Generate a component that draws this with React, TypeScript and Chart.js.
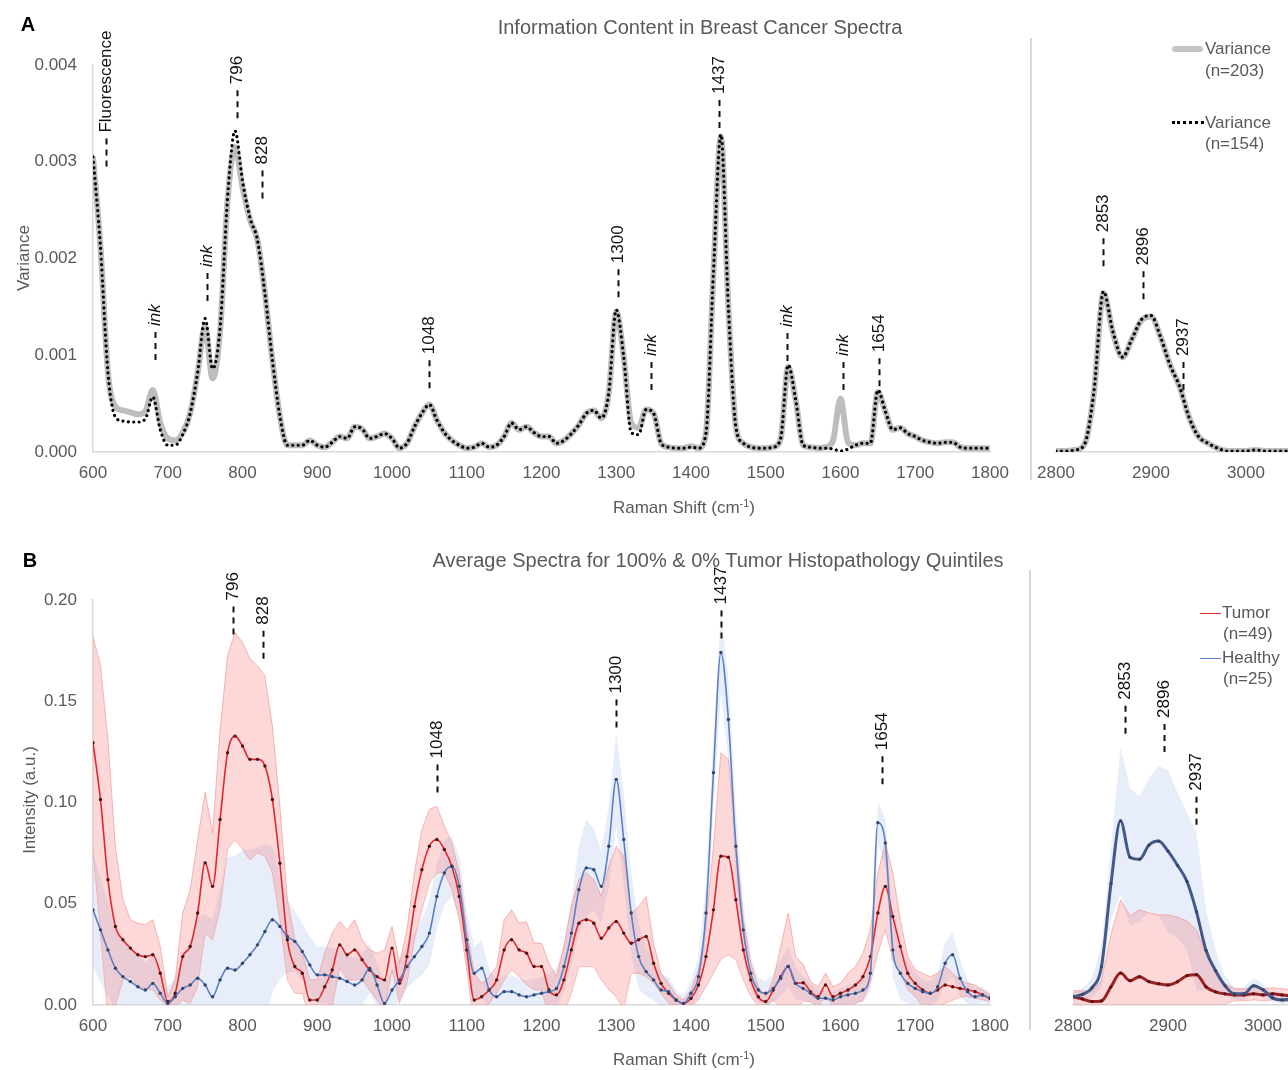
import React, { useEffect, useRef } from "react";
import { Chart, registerables } from "chart.js";

Chart.register(...registerables);

const FONT = "'Liberation Sans', Arial, Helvetica, sans-serif";
const TEXT_GRAY = "#595959";
const AXIS_GRAY = "#d9d9d9";

// ---------- x grids (Raman shift, cm-1) ----------
const FP_SHIFT = [
  600, 610, 620, 630, 640, 650, 660, 670, 680, 690,
  700, 710, 720, 730, 740, 750, 760, 770, 780, 790,
  800, 810, 820, 830, 840, 850, 860, 870, 880, 890,
  900, 910, 920, 930, 940, 950, 960, 970, 980, 990,
  1000, 1010, 1020, 1030, 1040, 1050, 1060, 1070, 1080, 1090,
  1100, 1110, 1120, 1130, 1140, 1150, 1160, 1170, 1180, 1190,
  1200, 1210, 1220, 1230, 1240, 1250, 1260, 1270, 1280, 1290,
  1300, 1310, 1320, 1330, 1340, 1350, 1360, 1370, 1380, 1390,
  1400, 1410, 1420, 1430, 1440, 1450, 1460, 1470, 1480, 1490,
  1500, 1510, 1520, 1530, 1540, 1550, 1560, 1570, 1580, 1590,
  1600, 1610, 1620, 1630, 1640, 1650, 1660, 1670, 1680, 1690,
  1700, 1710, 1720, 1730, 1740, 1750, 1760, 1770, 1780, 1790,
  1800,
];
const HW_SHIFT = [
  2800, 2810, 2820, 2830, 2840, 2850, 2860, 2870, 2880, 2890,
  2900, 2910, 2920, 2930, 2940, 2950, 2960, 2970, 2980, 2990,
  3000, 3010, 3020, 3030, 3040, 3050,
];

// ---------- tick labels ----------
const FP_TICKS = [600, 700, 800, 900, 1000, 1100, 1200, 1300, 1400, 1500, 1600, 1700, 1800];
const HW_TICKS = [2800, 2900, 3000];
const VAR_TICKS = [0, 0.001, 0.002, 0.003, 0.004];
const INT_TICKS = [0, 0.05, 0.1, 0.15, 0.2];

// ---------- Panel A: variance (values in units of 0.001) ----------
const VAR203_FP = [
  3.05, 2.12, 0.82, 0.47, 0.43, 0.41, 0.39, 0.42, 0.64, 0.30,
  0.14, 0.12, 0.20, 0.40, 0.82, 1.30, 0.76, 1.25, 2.60, 3.15,
  2.74, 2.40, 2.19, 1.64, 0.95, 0.37, 0.07, 0.07, 0.07, 0.12,
  0.07, 0.05, 0.10, 0.16, 0.14, 0.26, 0.24, 0.14, 0.16, 0.19,
  0.14, 0.04, 0.09, 0.26, 0.40, 0.49, 0.33, 0.20, 0.12, 0.07,
  0.04, 0.05, 0.09, 0.05, 0.07, 0.16, 0.30, 0.23, 0.26, 0.20,
  0.16, 0.16, 0.09, 0.12, 0.19, 0.28, 0.40, 0.43, 0.35, 0.61,
  1.45, 0.98, 0.30, 0.25, 0.44, 0.40, 0.09, 0.05, 0.04, 0.04,
  0.06, 0.04, 0.19, 1.85, 3.26, 1.50, 0.26, 0.09, 0.05, 0.04,
  0.04, 0.05, 0.14, 0.88, 0.54, 0.07, 0.05, 0.04, 0.05, 0.12,
  0.55, 0.10, 0.07, 0.09, 0.09, 0.62, 0.42, 0.23, 0.25, 0.19,
  0.16, 0.12, 0.10, 0.09, 0.10, 0.10, 0.05, 0.04, 0.04, 0.04,
  0.04,
];
const VAR154_FP = [
  3.05, 2.12, 0.82, 0.36, 0.32, 0.31, 0.31, 0.34, 0.57, 0.23,
  0.07, 0.07, 0.18, 0.40, 0.82, 1.38, 0.86, 1.28, 2.62, 3.32,
  2.80, 2.42, 2.19, 1.64, 0.95, 0.37, 0.07, 0.07, 0.07, 0.12,
  0.07, 0.05, 0.10, 0.16, 0.14, 0.26, 0.24, 0.14, 0.16, 0.19,
  0.14, 0.04, 0.09, 0.26, 0.40, 0.49, 0.33, 0.20, 0.12, 0.07,
  0.04, 0.05, 0.09, 0.05, 0.07, 0.16, 0.30, 0.23, 0.26, 0.20,
  0.16, 0.16, 0.09, 0.12, 0.19, 0.28, 0.40, 0.43, 0.35, 0.61,
  1.47, 0.98, 0.20, 0.18, 0.44, 0.40, 0.09, 0.05, 0.04, 0.04,
  0.05, 0.04, 0.19, 1.85, 3.28, 1.50, 0.26, 0.09, 0.05, 0.04,
  0.04, 0.05, 0.14, 0.90, 0.54, 0.07, 0.05, 0.04, 0.04, 0.03,
  0.01, 0.03, 0.07, 0.09, 0.09, 0.64, 0.42, 0.23, 0.25, 0.19,
  0.16, 0.12, 0.10, 0.09, 0.10, 0.10, 0.05, 0.04, 0.04, 0.04,
  0.04,
];
const VAR203_HW = [
  0.01, 0.01, 0.02, 0.08, 0.62, 1.64, 1.23, 0.98, 1.17, 1.36,
  1.40, 1.19, 0.90, 0.68, 0.36, 0.16, 0.09, 0.04, 0.01, 0.01,
  0.01, 0.02, 0.01, 0.01, 0.01, 0.01,
];
const VAR154_HW = [
  0.01, 0.01, 0.02, 0.08, 0.63, 1.66, 1.24, 0.98, 1.17, 1.37,
  1.41, 1.19, 0.90, 0.68, 0.36, 0.16, 0.09, 0.04, 0.01, 0.01,
  0.01, 0.02, 0.01, 0.01, 0.01, 0.01,
];

// ---------- Panel B: mean intensity and SD (values in units of 0.01) ----------
const TUMOR_FP = [
  12.95, 10.15, 6.19, 3.88, 3.22, 2.81, 2.48, 2.39, 2.48, 1.57,
  0.17, 0.58, 2.39, 2.89, 4.54, 7.02, 5.86, 9.16, 12.46, 13.28,
  12.79, 12.13, 12.13, 11.80, 10.15, 7.00, 3.22, 1.90, 1.57, 0.25,
  0.25, 0.90, 1.73, 2.97, 2.48, 2.72, 2.24, 1.73, 1.40, 1.24,
  2.81, 1.07, 2.39, 4.87, 6.68, 7.84, 8.17, 7.68, 6.85, 5.36,
  2.72, 0.25, 0.41, 0.74, 1.24, 2.72, 3.22, 2.72, 2.56, 1.90,
  1.90, 0.74, 0.50, 1.24, 2.72, 4.04, 4.21, 4.04, 3.30, 3.80,
  4.12, 3.55, 3.05, 3.22, 3.38, 2.06, 1.07, 0.58, 0.25, 0.08,
  0.33, 0.99, 2.39, 4.70, 7.35, 7.30, 5.20, 2.72, 1.24, 0.41,
  0.17, 0.74, 1.40, 1.90, 1.07, 1.10, 0.65, 0.41, 0.99, 0.41,
  0.58, 0.74, 0.99, 1.40, 2.39, 4.54, 5.86, 4.37, 2.89, 1.57,
  1.07, 0.74, 0.58, 0.74, 0.99, 0.90, 0.82, 0.74, 0.66, 0.50,
  0.33,
];
const TUMOR_SD_FP = [
  5.25, 6.60, 6.90, 3.90, 2.00, 1.40, 1.56, 1.57, 1.73, 1.32,
  0.24, 0.66, 2.15, 2.80, 3.63, 3.48, 2.64, 4.44, 4.78, 5.12,
  5.11, 4.97, 4.62, 4.45, 3.63, 2.80, 2.00, 1.32, 1.00, 1.00,
  1.00, 1.66, 1.82, 1.15, 1.23, 1.49, 0.98, 1.00, 1.16, 1.48,
  1.07, 0.99, 1.32, 1.65, 1.98, 1.81, 1.65, 1.15, 1.15, 1.16,
  1.00, 1.32, 0.66, 0.66, 0.66, 1.49, 1.48, 1.32, 1.56, 1.15,
  1.15, 1.32, 0.90, 1.65, 2.15, 2.15, 2.31, 2.15, 2.06, 3.05,
  3.72, 3.80, 1.49, 1.65, 1.98, 0.99, 0.50, 0.49, 0.25, 0.17,
  0.41, 0.74, 1.49, 3.14, 5.10, 4.83, 2.97, 1.49, 0.82, 0.49,
  0.24, 0.50, 1.49, 2.64, 1.32, 0.91, 0.49, 0.49, 0.58, 0.49,
  0.49, 0.83, 0.91, 1.16, 1.32, 1.98, 2.14, 2.15, 1.32, 0.82,
  0.66, 0.83, 0.82, 0.83, 0.91, 0.67, 0.42, 0.33, 0.33, 0.24,
  0.17,
];
const HEALTHY_FP = [
  4.70, 3.71, 2.72, 1.82, 1.40, 1.16, 0.90, 0.74, 1.07, 0.58,
  0.08, 0.41, 0.82, 0.99, 1.32, 0.99, 0.41, 1.24, 1.82, 1.73,
  2.06, 2.48, 2.97, 3.63, 4.21, 3.88, 3.38, 3.14, 2.64, 1.98,
  1.49, 1.49, 1.40, 1.32, 1.16, 0.99, 1.24, 1.82, 0.99, 0.08,
  0.74, 1.24, 1.90, 2.39, 2.89, 3.55, 5.36, 6.52, 6.85, 5.86,
  3.22, 1.57, 1.82, 0.74, 0.41, 0.66, 0.66, 0.50, 0.41, 0.50,
  0.58, 0.66, 0.82, 1.90, 3.55, 5.69, 6.77, 6.68, 5.86, 7.84,
  11.14, 8.17, 4.54, 2.39, 1.65, 1.24, 0.74, 0.66, 0.25, 0.08,
  0.58, 1.40, 4.54, 11.47, 17.41, 14.10, 7.84, 3.71, 1.57, 0.74,
  0.58, 0.82, 1.32, 1.90, 1.07, 0.82, 0.58, 0.33, 0.33, 0.25,
  0.41, 0.50, 0.58, 0.74, 1.57, 9.00, 8.00, 2.72, 1.57, 1.07,
  0.82, 0.66, 0.58, 0.90, 2.06, 2.48, 1.32, 0.66, 0.41, 0.50,
  0.33,
];
const HEALTHY_SD_FP = [
  2.8, 2.6, 2.3, 2.0, 1.8, 1.6, 1.5, 1.4, 1.4, 1.2,
  0.8, 1.0, 1.6, 2.2, 3.0, 3.5, 3.8, 4.5, 5.5, 5.6,
  5.6, 5.2, 4.8, 4.3, 3.6, 2.6, 1.8, 1.5, 1.4, 1.4,
  1.4, 1.4, 1.4, 1.4, 1.3, 1.3, 1.3, 1.2, 1.1, 1.0,
  1.0, 1.0, 1.1, 1.2, 1.4, 1.6, 1.6, 1.6, 1.5, 1.5,
  1.4, 1.3, 1.4, 1.0, 0.8, 0.8, 0.8, 0.8, 0.8, 0.8,
  0.8, 0.9, 1.0, 1.2, 1.6, 2.2, 2.4, 2.0, 1.8, 2.0,
  2.3, 2.3, 2.0, 1.6, 1.2, 1.0, 0.8, 0.7, 0.5, 0.4,
  0.6, 1.0, 1.5, 1.8, 2.0, 2.0, 1.8, 1.2, 0.8, 0.6,
  0.6, 0.7, 0.9, 1.0, 0.8, 0.6, 0.5, 0.4, 0.4, 0.4,
  0.4, 0.5, 0.5, 0.6, 0.9, 1.0, 1.2, 1.4, 1.3, 1.0,
  0.8, 0.6, 0.6, 0.7, 1.0, 1.1, 0.9, 0.6, 0.4, 0.4,
  0.3,
];
const TUMOR_HW = [
  0.41, 0.30, 0.17, 0.20, 0.90, 1.58, 1.20, 1.40, 1.15, 1.05,
  0.99, 1.15, 1.45, 1.50, 0.90, 0.65, 0.55, 0.50, 0.50, 0.55,
  0.50, 0.55, 0.50, 0.45, 0.45, 0.45,
];
const TUMOR_SD_HW = [
  0.3, 0.4, 0.5, 1.0, 2.6, 3.6, 3.2, 3.3, 3.4, 3.4,
  3.46, 3.2, 2.7, 2.2, 1.6, 1.0, 0.5, 0.3, 0.3, 0.3,
  0.3, 0.3, 0.3, 0.3, 0.3, 0.3,
];
const HEALTHY_HW = [
  0.41, 0.52, 0.85, 1.90, 6.00, 9.10, 7.30, 7.20, 7.90, 8.10,
  7.60, 6.90, 6.10, 4.60, 2.70, 1.70, 0.95, 0.55, 0.55, 0.95,
  0.75, 0.35, 0.25, 0.30, 0.30, 0.30,
];
const HEALTHY_SD_HW = [
  0.2, 0.3, 0.5, 1.0, 1.8, 3.6, 3.4, 3.1, 3.3, 3.7,
  4.0, 3.6, 3.4, 3.9, 2.0, 1.0, 0.5, 0.3, 0.3, 0.4,
  0.3, 0.2, 0.2, 0.2, 0.2, 0.2,
];

// ---------- peak annotations (x = shift, y = where the dashed marker starts) ----------
const A_FP_PEAKS = [
  { x: 617, y: 0.00295, label: "Fluorescence" },
  { x: 683, y: 0.00095, label: "ink", italic: true },
  { x: 752, y: 0.00156, label: "ink", italic: true },
  { x: 793, y: 0.00345, label: "796" },
  { x: 826, y: 0.00262, label: "828" },
  { x: 1050, y: 0.00066, label: "1048" },
  { x: 1302, y: 0.0016, label: "1300" },
  { x: 1346, y: 0.00064, label: "ink", italic: true },
  { x: 1437, y: 0.00335, label: "1437" },
  { x: 1529, y: 0.00094, label: "ink", italic: true },
  { x: 1603, y: 0.00064, label: "ink", italic: true },
  { x: 1652, y: 0.00068, label: "1654" },
];
const A_HW_PEAKS = [
  { x: 2849, y: 0.00192, label: "2853" },
  { x: 2892, y: 0.00158, label: "2896" },
  { x: 2934, y: 0.00064, label: "2937" },
];
const B_FP_PEAKS = [
  { x: 787, y: 0.183, label: "796" },
  { x: 828, y: 0.171, label: "828" },
  { x: 1060, y: 0.105, label: "1048" },
  { x: 1300, y: 0.137, label: "1300" },
  { x: 1440, y: 0.181, label: "1437" },
  { x: 1655, y: 0.109, label: "1654" },
];
const B_HW_PEAKS = [
  { x: 2855, y: 0.134, label: "2853" },
  { x: 2896, y: 0.125, label: "2896" },
  { x: 2929, y: 0.089, label: "2937" },
];

// ---------- helpers ----------
type Pt = { x: number; y: number };
const pts = (xs: number[], ys: number[], k: number): Pt[] => xs.map((x, i) => ({ x, y: ys[i] * k }));
const band = (xs: number[], m: number[], sd: number[], sign: number, k: number): Pt[] =>
  xs.map((x, i) => ({ x, y: (m[i] + sign * sd[i]) * k }));

const CANVAS_W = 1320;
const CANVAS_H = 1070;

function peakPlugin(items: { x: number; y: number; label: string; italic?: boolean }[]) {
  return {
    id: "peakMarks",
    afterDatasetsDraw(chart: any) {
      const xs = chart.scales.x;
      const ys = chart.scales.y;
      const ctx = chart.ctx as CanvasRenderingContext2D;
      for (const it of items) {
        const px = Math.round(xs.getPixelForValue(it.x)) + 0.5;
        const py = ys.getPixelForValue(it.y);
        ctx.save();
        ctx.strokeStyle = "#111";
        ctx.lineWidth = 2;
        ctx.setLineDash([6, 5]);
        ctx.beginPath();
        ctx.moveTo(px, py);
        ctx.lineTo(px, py - 30);
        ctx.stroke();
        ctx.setLineDash([]);
        ctx.translate(px, py - 34);
        ctx.rotate(-Math.PI / 2);
        ctx.font = `${it.italic ? "italic " : ""}17px ${FONT}`;
        ctx.fillStyle = "#111";
        ctx.textAlign = "left";
        ctx.textBaseline = "middle";
        ctx.fillText(it.label, 0, 0);
        ctx.restore();
      }
    },
  };
}

function makeOptions(o: {
  padding: any;
  xMin: number;
  xMax: number;
  xTicks: number[];
  yMax: number;
  yTicks: number[];
  yShow: boolean;
  yDecimals: number;
}) {
  return {
    responsive: false,
    maintainAspectRatio: false,
    animation: false,
    devicePixelRatio: 1,
    events: [],
    layout: { padding: o.padding },
    plugins: { legend: { display: false }, tooltip: { enabled: false }, title: { display: false } },
    elements: { point: { radius: 0 } },
    scales: {
      x: {
        type: "linear",
        min: o.xMin,
        max: o.xMax,
        grid: { display: false, drawTicks: false },
        border: { display: true, color: AXIS_GRAY, width: 1.5 },
        ticks: {
          color: TEXT_GRAY,
          font: { size: 17, family: FONT },
          padding: 11,
          maxRotation: 0,
          autoSkip: false,
          callback: (v: any) => String(v),
        },
        afterBuildTicks: (s: any) => {
          s.ticks = o.xTicks.map((v) => ({ value: v }));
        },
        afterFit: (s: any) => {
          s.height = 40;
        },
      },
      y: {
        type: "linear",
        display: o.yShow,
        min: 0,
        max: o.yMax,
        grid: { display: false, drawTicks: false },
        border: { display: true, color: AXIS_GRAY, width: 1.5 },
        ticks: {
          color: TEXT_GRAY,
          font: { size: 17, family: FONT },
          padding: 16,
          callback: (v: any) => Number(v).toFixed(o.yDecimals),
        },
        afterBuildTicks: (s: any) => {
          s.ticks = o.yTicks.map((v) => ({ value: v }));
        },
        afterFit: (s: any) => {
          s.width = o.yShow ? 93 : 0;
        },
      },
    },
  };
}

function varianceConfig(xs: number[], v203: number[], v154: number[], peaks: any[], opts: any) {
  return {
    type: "line",
    data: {
      datasets: [
        {
          label: "Variance (n=154)",
          data: pts(xs, v154, 0.001),
          borderColor: "#000",
          borderWidth: 3.2,
          borderDash: [0.01, 5.4],
          borderCapStyle: "round",
          pointRadius: 0,
          fill: false,
          cubicInterpolationMode: "monotone",
          order: 0,
        },
        {
          label: "Variance (n=203)",
          data: pts(xs, v203, 0.001),
          borderColor: "rgba(178,178,178,0.85)",
          borderWidth: 6,
          pointRadius: 0,
          fill: false,
          cubicInterpolationMode: "monotone",
          order: 1,
        },
      ],
    },
    options: opts,
    plugins: [peakPlugin(peaks)],
  };
}

function intensityConfig(
  xs: number[],
  tumor: number[],
  tumorSd: number[],
  healthy: number[],
  healthySd: number[],
  peaks: any[],
  opts: any,
  thick: boolean
) {
  const k = 0.01;
  const none = "rgba(0,0,0,0)";
  return {
    type: "line",
    data: {
      datasets: [
        {
          label: "Healthy (n=25)",
          data: pts(xs, healthy, k),
          borderColor: thick ? "#44598a" : "#5b80c8",
          borderWidth: thick ? 3 : 1.6,
          pointRadius: thick ? 1.6 : 1.7,
          pointBackgroundColor: "#354565",
          pointBorderWidth: 0,
          fill: false,
          cubicInterpolationMode: "monotone",
          order: 0,
        },
        {
          label: "Tumor (n=49)",
          data: pts(xs, tumor, k),
          borderColor: thick ? "#9c1f22" : "#e2282d",
          borderWidth: thick ? 3 : 1.6,
          pointRadius: thick ? 1.6 : 1.7,
          pointBackgroundColor: "#4d1414",
          pointBorderWidth: 0,
          fill: false,
          cubicInterpolationMode: "monotone",
          order: 0,
        },
        {
          label: "tumor+sd",
          data: band(xs, tumor, tumorSd, 1, k),
          borderColor: "rgba(240,130,130,0.55)",
          borderWidth: 1,
          pointRadius: 0,
          fill: false,
          order: 1,
        },
        {
          label: "tumor-sd",
          data: band(xs, tumor, tumorSd, -1, k),
          borderColor: "rgba(240,130,130,0.45)",
          borderWidth: 1,
          pointRadius: 0,
          fill: "-1",
          backgroundColor: "rgba(246,125,125,0.30)",
          order: 1,
        },
        {
          label: "healthy+sd",
          data: band(xs, healthy, healthySd, 1, k),
          borderColor: none,
          borderWidth: 0,
          pointRadius: 0,
          fill: false,
          order: 2,
        },
        {
          label: "healthy-sd",
          data: band(xs, healthy, healthySd, -1, k),
          borderColor: none,
          borderWidth: 0,
          pointRadius: 0,
          fill: "-1",
          backgroundColor: "rgba(175,198,235,0.30)",
          order: 2,
        },
      ],
    },
    options: opts,
    plugins: [peakPlugin(peaks)],
  };
}

function ChartCanvas({ build }: { build: () => any }) {
  const ref = useRef<HTMLCanvasElement | null>(null);
  useEffect(() => {
    if (!ref.current) return;
    const chart = new Chart(ref.current, build());
    return () => chart.destroy();
  }, []);
  return (
    <canvas
      ref={ref}
      width={CANVAS_W}
      height={CANVAS_H}
      style={{ position: "absolute", left: 0, top: 0, width: CANVAS_W, height: CANVAS_H }}
    />
  );
}

function Txt(props: {
  x: number;
  y: number;
  children: React.ReactNode;
  size?: number;
  color?: string;
  rotate?: boolean;
  bold?: boolean;
  left?: boolean;
}) {
  const { x, y, children, size = 17, color = TEXT_GRAY, rotate = false, bold = false, left = false } = props;
  const tf = left ? "translate(0,-50%)" : `translate(-50%,-50%)${rotate ? " rotate(-90deg)" : ""}`;
  return (
    <div
      style={{
        position: "absolute",
        left: x,
        top: y,
        transform: tf,
        whiteSpace: "nowrap",
        fontSize: size,
        lineHeight: 1.15,
        color,
        fontWeight: bold ? 700 : 400,
      }}
    >
      {children}
    </div>
  );
}

const Raman = () => (
  <span>
    Raman Shift (cm<span style={{ fontSize: 11, position: "relative", top: -6 }}>-1</span>)
  </span>
);

export default function App() {
  const aLeft = () =>
    varianceConfig(
      FP_SHIFT,
      VAR203_FP,
      VAR154_FP,
      A_FP_PEAKS,
      makeOptions({
        padding: { left: 0, top: 65, right: CANVAS_W - 990, bottom: CANVAS_H - 452 - 40 },
        xMin: 600, xMax: 1800, xTicks: FP_TICKS, yMax: 0.004, yTicks: VAR_TICKS, yShow: true, yDecimals: 3,
      })
    );
  const aRight = () =>
    varianceConfig(
      HW_SHIFT,
      VAR203_HW,
      VAR154_HW,
      A_HW_PEAKS,
      makeOptions({
        padding: { left: 1056, top: 65, right: CANVAS_W - 1293.5, bottom: CANVAS_H - 452 - 40 },
        xMin: 2800, xMax: 3050, xTicks: HW_TICKS, yMax: 0.004, yTicks: VAR_TICKS, yShow: false, yDecimals: 3,
      })
    );
  const bLeft = () =>
    intensityConfig(
      FP_SHIFT,
      TUMOR_FP,
      TUMOR_SD_FP,
      HEALTHY_FP,
      HEALTHY_SD_FP,
      B_FP_PEAKS,
      makeOptions({
        padding: { left: 0, top: 600, right: CANVAS_W - 990, bottom: CANVAS_H - 1005 - 40 },
        xMin: 600, xMax: 1800, xTicks: FP_TICKS, yMax: 0.2, yTicks: INT_TICKS, yShow: true, yDecimals: 2,
      }),
      false
    );
  const bRight = () =>
    intensityConfig(
      HW_SHIFT,
      TUMOR_HW,
      TUMOR_SD_HW,
      HEALTHY_HW,
      HEALTHY_SD_HW,
      B_HW_PEAKS,
      makeOptions({
        padding: { left: 1073, top: 600, right: CANVAS_W - 1310.5, bottom: CANVAS_H - 1005 - 40 },
        xMin: 2800, xMax: 3050, xTicks: HW_TICKS, yMax: 0.2, yTicks: INT_TICKS, yShow: false, yDecimals: 2,
      }),
      true
    );

  return (
    <div
      style={{
        position: "fixed",
        left: 0,
        top: 0,
        width: 1288,
        height: 1070,
        overflow: "hidden",
        background: "#fff",
        fontFamily: FONT,
      }}
    >
      <ChartCanvas build={aLeft} />
      <ChartCanvas build={aRight} />
      <ChartCanvas build={bLeft} />
      <ChartCanvas build={bRight} />

      {/* separators between fingerprint and high-wavenumber panels */}
      <div style={{ position: "absolute", left: 1030, top: 38, width: 1.5, height: 442, background: AXIS_GRAY }} />
      <div style={{ position: "absolute", left: 1029, top: 570, width: 1.5, height: 460, background: AXIS_GRAY }} />

      {/* panel letters and titles */}
      <Txt x={28} y={24} size={20} bold color="#000">A</Txt>
      <Txt x={30} y={560} size={20} bold color="#000">B</Txt>
      <Txt x={700} y={27} size={20}>Information Content in Breast Cancer Spectra</Txt>
      <Txt x={718} y={560} size={20}>Average Spectra for 100% &amp; 0% Tumor Histopathology Quintiles</Txt>

      {/* axis titles */}
      <Txt x={24} y={258} rotate>Variance</Txt>
      <Txt x={30} y={800} rotate>Intensity (a.u.)</Txt>
      <Txt x={684} y={508}><Raman /></Txt>
      <Txt x={684} y={1060}><Raman /></Txt>

      {/* legend A */}
      <div style={{ position: "absolute", left: 1172, top: 46, width: 31, height: 6, borderRadius: 3, background: "#c4c4c4" }} />
      <Txt x={1205} y={49} left>Variance</Txt>
      <Txt x={1205} y={71} left>(n=203)</Txt>
      <div style={{ position: "absolute", left: 1172, top: 121, width: 32, height: 0, borderTop: "3px dotted #000" }} />
      <Txt x={1205} y={123} left>Variance</Txt>
      <Txt x={1205} y={144} left>(n=154)</Txt>

      {/* legend B */}
      <div style={{ position: "absolute", left: 1200, top: 612.5, width: 21, height: 1.5, background: "#e2282d" }} />
      <Txt x={1222} y={613} left>Tumor</Txt>
      <Txt x={1223} y={634} left>(n=49)</Txt>
      <div style={{ position: "absolute", left: 1200, top: 657.5, width: 21, height: 1.5, background: "#5b80c8" }} />
      <Txt x={1222} y={658} left>Healthy</Txt>
      <Txt x={1223} y={679} left>(n=25)</Txt>
    </div>
  );
}
